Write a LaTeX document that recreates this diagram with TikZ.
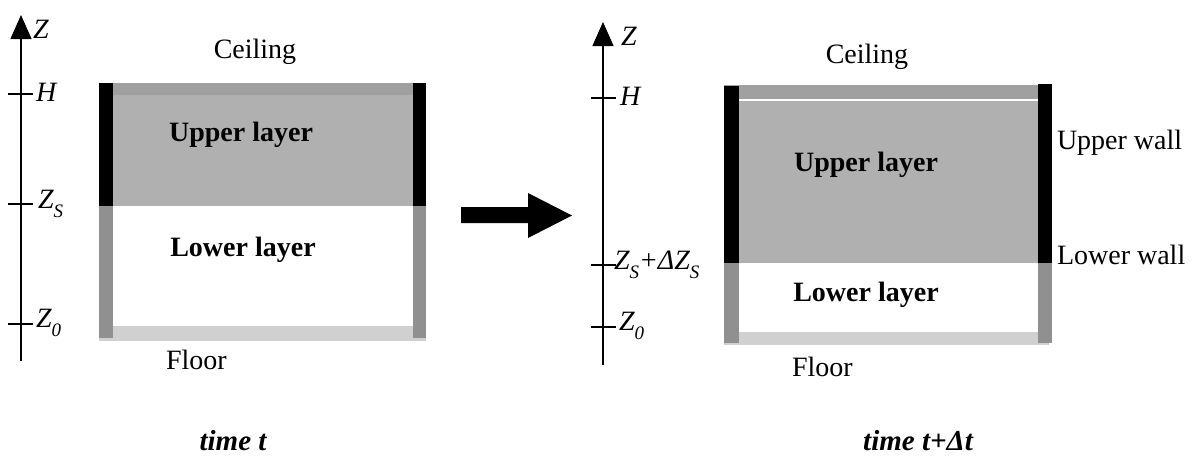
\documentclass[tikz,border=0pt]{standalone}
\usepackage{fontspec}
\setmainfont{Liberation Serif}
\usetikzlibrary{arrows.meta}
\definecolor{ceilc}{HTML}{A0A0A0}
\definecolor{upc}{HTML}{B0B0B0}
\definecolor{wallgray}{HTML}{909090}
\definecolor{floorc}{HTML}{D0D0D0}
\newcommand{\lsub}[1]{\raisebox{-0.3em}{\fontsize{19}{19}\selectfont #1}}
\begin{document}
\begin{tikzpicture}[x=1pt,y=-1pt,
  every node/.style={inner sep=0pt,outer sep=0pt},
  txt/.style={font=\fontsize{28}{30}\selectfont},
  btxt/.style={font=\fontsize{28}{30}\selectfont\bfseries},
  itxt/.style={font=\fontsize{28}{30}\selectfont\itshape, anchor=west},
  ttxt/.style={font=\fontsize{29}{31}\selectfont\bfseries\itshape},
  axis/.style={line width=1.3pt,-{Triangle[width=21pt,length=24pt]}},
  tick/.style={line width=1.3pt}]
\useasboundingbox (0,0) rectangle (1194,459);

% ===== Left diagram (time t) =====
\fill[floorc] (99,326) rectangle (426,341);
\fill[ceilc] (99,83) rectangle (426,95);
\fill[upc] (99,95) rectangle (426,206);
\fill[black] (99,83) rectangle (113,206);
\fill[black] (413,83) rectangle (426,206);
\fill[wallgray] (99,206) rectangle (113,338);
\fill[wallgray] (413,206) rectangle (426,338);

\coordinate (la0) at (21,361);
\coordinate (la1) at (21,15);
\draw[axis] (la0) -- (la1);
\node[itxt] (lz) at (33,29) {Z};
\draw[tick] (8,94) -- (33,94);
\node[itxt] (lh) at (36,92) {H};
\draw[tick] (8,204) -- (33,204);
\node[itxt] (lzs) at (38,204) {Z\lsub{S}};
\draw[tick] (8,324) -- (33,324);
\node[itxt] (lz0) at (36,323) {Z\lsub{0}};

\node[txt] (lceil) at (255,52) {Ceiling};
\node[btxt] (lup) at (241,135) {Upper layer};
\node[btxt] (llow) at (243,250) {Lower layer};
\node[txt,anchor=west] (lfloor) at (166,360) {Floor};
\node[ttxt] (ltime) at (233,441) {time t};

% ===== Block arrow =====
\fill[black] (461,207) -- (528,207) -- (528,193) -- (572,215.5) -- (528,238) -- (528,223) -- (461,223) -- cycle;

% ===== Right diagram (time t+dt) =====
\fill[floorc] (724,332) rectangle (1049,345);
\fill[ceilc] (724,85) rectangle (1038,99);
\fill[white] (724,99) rectangle (1038,101);
\fill[upc] (724,101) rectangle (1038,263);
\fill[black] (724,86) rectangle (739,263);
\fill[black] (1038,84) rectangle (1052,263);
\fill[wallgray] (724,263) rectangle (739,343);
\fill[wallgray] (1038,263) rectangle (1052,343);

\coordinate (ra0) at (603,365);
\coordinate (ra1) at (603,22);
\draw[axis] (ra0) -- (ra1);
\node[itxt] (rz) at (621,36) {Z};
\draw[tick] (591,98) -- (616,98);
\node[itxt] (rh) at (620,96) {H};
\draw[tick] (591,265) -- (616,265);
\node[itxt] (rzs) at (614,265) {Z\lsub{S}+ΔZ\lsub{S}};
\draw[tick] (591,327) -- (616,327);
\node[itxt] (rz0) at (619,326) {Z\lsub{0}};

\node[txt] (rceil) at (867,57) {Ceiling};
\node[btxt] (rup) at (866,165) {Upper layer};
\node[btxt] (rlow) at (866,295) {Lower layer};
\node[txt,anchor=west] (rfloor) at (792,367) {Floor};
\node[txt,anchor=west] (ruw) at (1057,143) {Upper wall};
\node[txt,anchor=west] (rlw) at (1057,255) {Lower wall};
\node[ttxt] (rtime) at (918,441) {time t+Δt};
\end{tikzpicture}
\end{document}
